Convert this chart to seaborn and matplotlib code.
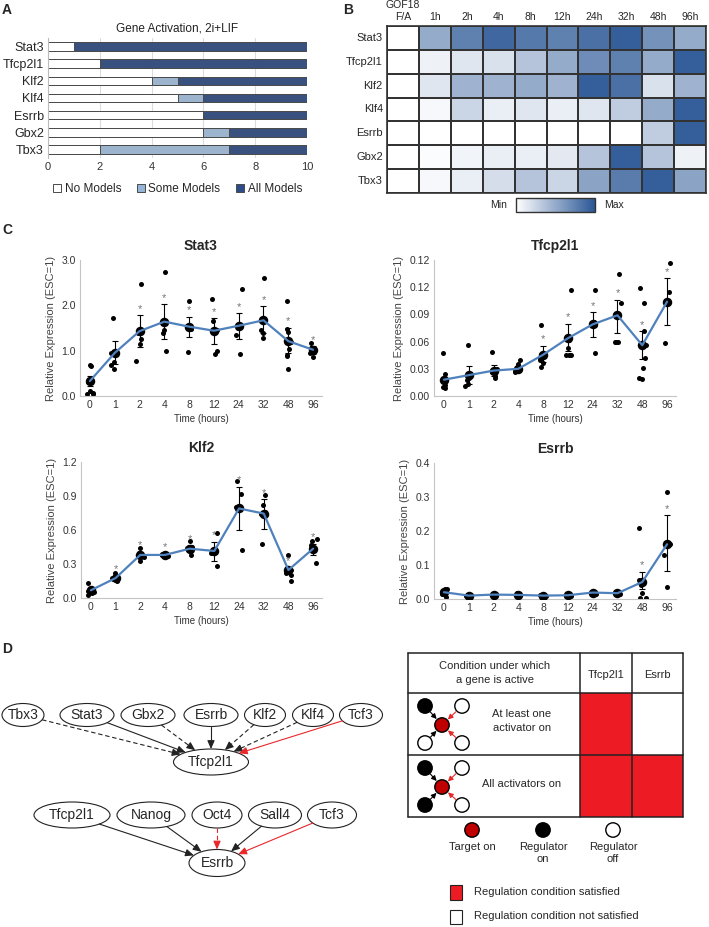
import numpy as np
import pandas as pd
import matplotlib
matplotlib.use("Agg")
import matplotlib.pyplot as plt
import seaborn as sns
from matplotlib.colors import LinearSegmentedColormap
from matplotlib.patches import Ellipse, Circle, Rectangle, Patch

sns.set_style("white")
plt.rcParams["font.family"] = ["Liberation Sans", "DejaVu Sans"]

# %% Data
# A: gene activation counts (out of 10 models)
genes_a = ["Stat3", "Tfcp2l1", "Klf2", "Klf4", "Esrrb", "Gbx2", "Tbx3"]
no_models = [1, 2, 4, 5, 6, 6, 2]
some_models = [0, 0, 1, 1, 0, 1, 5]
all_models = [9, 8, 5, 4, 4, 3, 3]

# B: relative expression heatmap (min-max scaled)
hm_cols = ["GOF18\nF/A", "1h", "2h", "4h", "8h", "12h", "24h", "32h", "48h", "96h"]
hm_vals = [
    [0, 0.50, 0.75, 0.90, 0.80, 0.75, 0.85, 0.95, 0.65, 0.50],
    [0, 0.08, 0.15, 0.18, 0.35, 0.50, 0.68, 0.75, 0.50, 0.95],
    [0, 0.15, 0.45, 0.45, 0.50, 0.45, 0.95, 0.85, 0.18, 0.45],
    [0, 0.04, 0.25, 0.10, 0.15, 0.10, 0.15, 0.30, 0.50, 0.95],
    [0, 0.00, 0.00, 0.00, 0.00, 0.00, 0.00, 0.00, 0.30, 0.95],
    [0, 0.02, 0.07, 0.10, 0.10, 0.13, 0.35, 0.95, 0.35, 0.08],
    [0, 0.04, 0.10, 0.20, 0.35, 0.25, 0.55, 0.78, 0.95, 0.55],
]

# C: qPCR time course
times = ["0", "1", "2", "4", "8", "12", "24", "32", "48", "96"]

stat3_pts = [
    [0.68, 0.67, 0.30, 0.10, 0.06, 0.05, 0.05],
    [1.73, 0.95, 0.75, 0.68, 0.60],
    [2.48, 1.40, 1.25, 1.15, 0.77],
    [2.73, 1.62, 1.45, 1.38, 0.99],
    [2.10, 1.55, 1.52, 1.48, 0.97],
    [2.13, 1.65, 1.45, 1.00, 0.93],
    [2.37, 1.55, 1.50, 1.35, 0.93],
    [2.60, 1.70, 1.45, 1.40, 1.27],
    [2.10, 1.48, 1.42, 1.20, 1.03, 0.90, 0.88, 0.60],
    [1.17, 1.05, 1.00, 0.95, 0.85],
]
stat3_mean = [0.33, 0.95, 1.43, 1.64, 1.53, 1.44, 1.55, 1.67, 1.21, 1.02]
stat3_hi = [0.45, 1.22, 1.78, 2.02, 1.75, 1.72, 1.83, 1.98, 1.51, 1.10]
stat3_lo = [0.22, 0.70, 1.08, 1.26, 1.30, 1.15, 1.25, 1.40, 0.95, 0.93]
stat3_sig = [0, 0, 1, 1, 1, 1, 1, 1, 1, 1]

tfcp_pts = [
    [0.047, 0.024, 0.018, 0.015, 0.012, 0.010, 0.009],
    [0.056, 0.020, 0.018, 0.013, 0.011],
    [0.048, 0.030, 0.026, 0.022, 0.020],
    [0.040, 0.035, 0.030, 0.028, 0.026],
    [0.078, 0.045, 0.042, 0.040, 0.036, 0.032],
    [0.117, 0.062, 0.053, 0.045, 0.045, 0.045],
    [0.117, 0.082, 0.080, 0.078, 0.047],
    [0.135, 0.103, 0.090, 0.060, 0.060, 0.060],
    [0.119, 0.103, 0.072, 0.056, 0.042, 0.031, 0.020, 0.019],
    [0.147, 0.115, 0.105, 0.105, 0.058],
]
tfcp_mean = [0.018, 0.023, 0.028, 0.030, 0.0455, 0.0637, 0.079, 0.089, 0.056, 0.104]
tfcp_hi = [0.021, 0.033, 0.034, 0.032, 0.0555, 0.0796, 0.0926, 0.106, 0.0715, 0.130]
tfcp_lo = [0.015, 0.013, 0.022, 0.027, 0.037, 0.050, 0.065, 0.069, 0.041, 0.078]
tfcp_sig = [0, 0, 0, 0, 1, 1, 1, 1, 1, 1]

klf2_pts = [
    [0.13, 0.06, 0.05, 0.04, 0.03],
    [0.22, 0.18, 0.17, 0.16, 0.15],
    [0.44, 0.40, 0.38, 0.36, 0.33],
    [0.39, 0.38, 0.38, 0.37],
    [0.50, 0.45, 0.44, 0.42, 0.38],
    [0.57, 0.42, 0.40, 0.28],
    [1.03, 0.92, 0.80, 0.80, 0.42],
    [0.91, 0.82, 0.76, 0.74, 0.48],
    [0.38, 0.25, 0.22, 0.20, 0.15],
    [0.52, 0.50, 0.47, 0.44, 0.31],
]
klf2_mean = [0.068, 0.176, 0.38, 0.38, 0.435, 0.415, 0.79, 0.745, 0.247, 0.435]
klf2_hi = [0.080, 0.200, 0.41, 0.39, 0.465, 0.497, 0.98, 0.870, 0.270, 0.480]
klf2_lo = [0.055, 0.155, 0.35, 0.37, 0.405, 0.330, 0.60, 0.610, 0.220, 0.380]
klf2_sig = [0, 1, 1, 1, 1, 1, 1, 1, 1, 1]

esrrb_pts = [
    [0.030, 0.028, 0.022, 0.015, 0.005],
    [0.012, 0.010, 0.008],
    [0.015, 0.013, 0.011],
    [0.018, 0.012, 0.008],
    [0.011, 0.009, 0.008],
    [0.014, 0.010, 0.008],
    [0.021, 0.018, 0.016],
    [0.018, 0.016],
    [0.210, 0.055, 0.050, 0.040, 0.018, 0.002, 0.002],
    [0.315, 0.163, 0.130, 0.036],
]
esrrb_mean = [0.020, 0.010, 0.013, 0.012, 0.010, 0.011, 0.019, 0.017, 0.050, 0.161]
esrrb_hi = [0.025, 0.012, 0.015, 0.014, 0.011, 0.013, 0.021, 0.018, 0.080, 0.246]
esrrb_lo = [0.015, 0.008, 0.011, 0.010, 0.009, 0.009, 0.017, 0.016, 0.030, 0.082]
esrrb_sig = [0, 0, 0, 0, 0, 0, 0, 0, 1, 1]

# D: regulatory networks and rule table
net1_target = "Tfcp2l1"
net1_regs = ["Tbx3", "Stat3", "Gbx2", "Esrrb", "Klf2", "Klf4", "Tcf3"]
net1_kind = ["dashed", "solid", "dashed", "solid", "dashed", "dashed", "red"]
net2_target = "Esrrb"
net2_regs = ["Tfcp2l1", "Nanog", "Oct4", "Sall4", "Tcf3"]
net2_kind = ["solid", "solid", "red_dashed", "solid", "red"]

cond_labels = ["At least one\nactivator on", "All activators on"]
table_targets = ["Tfcp2l1", "Esrrb"]
satisfied = [[True, False], [True, True]]
icon_states = [[True, False, False, False], [True, False, True, False]]

# %% Figure
W, H = 709, 927
fig = plt.figure(figsize=(W / 100, H / 100), dpi=100)


def box(l, t, r, b):
    return [l / W, 1 - b / H, (r - l) / W, (b - t) / H]


LIGHT = "#95B3D7"
DARK = "#2C4D8A"
BLUE_LINE = "#4F81BD"

# %% A
axA = fig.add_axes(box(48, 38, 307, 158))
totals = np.add(np.add(no_models, some_models), all_models)
mids = np.add(no_models, some_models)
for vals, col in [(totals, DARK), (mids, LIGHT), (no_models, "white")]:
    sns.barplot(x=vals, y=genes_a, orient="h", color=col, width=0.5,
                edgecolor="#4a4a4a", linewidth=0.7, ax=axA)
axA.set_xlim(0, 10)
axA.set_xticks([0, 2, 4, 6, 8, 10])
axA.grid(axis="x", color="#dcdcdc", linewidth=0.8)
axA.set_axisbelow(True)
for s in ["top", "right", "bottom"]:
    axA.spines[s].set_visible(False)
axA.spines["left"].set_color("#bbbbbb")
axA.tick_params(length=0, pad=3)
axA.tick_params(axis="y", labelsize=9)
axA.tick_params(axis="x", labelsize=8, labelcolor="#333333")
axA.set_xlabel("")
axA.set_ylabel("")
axA.set_title("Gene Activation, 2i+LIF", fontsize=8.5, pad=5, color="#222222")
handles = [Patch(facecolor=c, edgecolor="#4a4a4a", linewidth=0.7, label=l)
           for c, l in [("white", "No Models"), (LIGHT, "Some Models"), (DARK, "All Models")]]
axA.legend(handles=handles, loc="upper center", bbox_to_anchor=(0.5, -0.17), ncol=3,
           frameon=False, fontsize=8.5, handlelength=0.7, handleheight=0.7,
           handletextpad=0.3, columnspacing=1.3, borderaxespad=0)

# %% B
cmap = LinearSegmentedColormap.from_list("wb", ["#FFFFFF", "#2B5796"])
axB = fig.add_axes(box(387, 26, 706, 193))
hm_df = pd.DataFrame(hm_vals, index=genes_a, columns=hm_cols)
sns.heatmap(hm_df, cmap=cmap, vmin=0, vmax=1, linewidths=1.2, linecolor="#333333",
            cbar=False, ax=axB)
axB.xaxis.tick_top()
axB.tick_params(length=0, pad=3)
axB.tick_params(axis="x", labelsize=7.5)
axB.tick_params(axis="y", labelsize=8)
plt.setp(axB.get_xticklabels(), rotation=0)
plt.setp(axB.get_yticklabels(), rotation=0)
for s in axB.spines.values():
    s.set_visible(True)
    s.set_color("#333333")
    s.set_linewidth(1.2)
cax = fig.add_axes(box(516, 198, 595, 212))
cb = fig.colorbar(axB.collections[0], cax=cax, orientation="horizontal")
cb.set_ticks([])
cb.outline.set_edgecolor("#333333")
cb.outline.set_linewidth(1)
cax.text(-0.12, 0.5, "Min", transform=cax.transAxes, ha="right", va="center", fontsize=7.5)
cax.text(1.12, 0.5, "Max", transform=cax.transAxes, ha="left", va="center", fontsize=7.5)

# %% C
np.random.seed(3)


def expr_panel(rect, title, pts, mean, lo, hi, sig, yticks, ylabels):
    ax = fig.add_axes(box(*rect))
    df = pd.DataFrame([(t, v) for t, vs in zip(times, pts) for v in vs],
                      columns=["time", "value"])
    sns.stripplot(data=df, x="time", y="value", order=times, color="black",
                  size=3.6, jitter=0.15, ax=ax, zorder=2)
    x = np.arange(len(times))
    ax.errorbar(x, mean, yerr=[np.subtract(mean, lo), np.subtract(hi, mean)],
                fmt="none", ecolor="black", elinewidth=0.8, capsize=2.5,
                capthick=0.8, zorder=3)
    ax.scatter(x, mean, s=34, color="black", zorder=4)
    ax.plot(x, mean, color=BLUE_LINE, lw=1.6, zorder=5)
    for i in np.flatnonzero(sig):
        ax.annotate("*", (i, hi[i]), xytext=(0, 1), textcoords="offset points",
                    ha="center", va="bottom", color="#777777", fontsize=8)
    ax.set_xlim(-0.4, 9.36)
    ax.set_ylim(yticks[0], yticks[-1])
    ax.set_yticks(yticks)
    ax.set_yticklabels(ylabels)
    for s in ["top", "right"]:
        ax.spines[s].set_visible(False)
    for s in ["left", "bottom"]:
        ax.spines[s].set_color("#c4c4c4")
        ax.spines[s].set_linewidth(0.8)
    ax.tick_params(length=0, labelsize=7.5, labelcolor="#333333", pad=3)
    ax.set_xlabel("Time (hours)", fontsize=7, labelpad=3, color="#333333")
    ax.set_ylabel("Relative Expression (ESC=1)", fontsize=8, color="#444444", labelpad=4)
    ax.set_title(title, fontsize=10, fontweight="bold", pad=7)
    return ax


expr_panel((80, 260, 322, 396), "Stat3", stat3_pts, stat3_mean, stat3_lo, stat3_hi,
           stat3_sig, [0, 1, 2, 3], ["0.0", "1.0", "2.0", "3.0"])
expr_panel((434, 260, 676, 396), "Tfcp2l1", tfcp_pts, tfcp_mean, tfcp_lo, tfcp_hi,
           tfcp_sig, [0, 0.03, 0.06, 0.09, 0.12, 0.15],
           ["0.00", "0.03", "0.06", "0.09", "0.12", "0.12"])
expr_panel((81, 462, 322, 598), "Klf2", klf2_pts, klf2_mean, klf2_lo, klf2_hi,
           klf2_sig, [0, 0.3, 0.6, 0.9, 1.2], ["0.0", "0.3", "0.6", "0.9", "1.2"])
expr_panel((434, 463, 676, 599), "Esrrb", esrrb_pts, esrrb_mean, esrrb_lo, esrrb_hi,
           esrrb_sig, [0, 0.1, 0.2, 0.3, 0.4], ["0.0", "0.1", "0.2", "0.3", "0.4"])

# %% D (drawn in pixel coordinates on an overlay)
axD = fig.add_axes([0, 0, 1, 1])
axD.set_xlim(0, W)
axD.set_ylim(H, 0)
axD.axis("off")
axD.patch.set_alpha(0)

RED = "#E8272A"


def ell_point(cx, cy, w, h, dx, dy):
    t = 1 / np.sqrt((dx / (w / 2)) ** 2 + (dy / (h / 2)) ** 2)
    return cx + dx * t, cy + dy * t


def draw_network(regs, kinds, target, xs, y, widths, h, tx, ty, tw, th):
    for name, kind, cx, w in zip(regs, kinds, xs, widths):
        axD.add_patch(Ellipse((cx, y), w, h, facecolor="white", edgecolor="#222222", lw=0.8))
        axD.text(cx, y, name, ha="center", va="center", fontsize=10)
        dx, dy = tx - cx, ty - y
        x0, y0 = ell_point(cx, y, w, h, dx, dy)
        x1, y1 = ell_point(tx, ty, tw, th, -dx, -dy)
        col = RED if kind.startswith("red") else "#222222"
        ls = (0, (4, 2.5)) if "dashed" in kind else "-"
        L = np.hypot(x1 - x0, y1 - y0)
        ux, uy = (x1 - x0) / L, (y1 - y0) / L
        axD.plot([x0, x1 - ux * 4], [y0, y1 - uy * 4], color=col, lw=0.8, ls=ls)
        axD.annotate("", xy=(x1, y1), xytext=(x1 - ux * 7, y1 - uy * 7),
                     arrowprops=dict(arrowstyle="-|>,head_length=0.5,head_width=0.22",
                                     color=col, lw=0.8, shrinkA=0, shrinkB=0))
    axD.add_patch(Ellipse((tx, ty), tw, th, facecolor="white", edgecolor="#222222", lw=0.8))
    axD.text(tx, ty, target, ha="center", va="center", fontsize=10)


draw_network(net1_regs, net1_kind, net1_target,
             [23, 87, 148, 211, 265, 313, 361], 715, [42, 54, 54, 54, 41, 41, 43], 23,
             211, 762, 75, 26)
draw_network(net2_regs, net2_kind, net2_target,
             [72, 151, 217, 275, 332], 815, [76, 68, 50, 53, 49], 26,
             217, 863, 56, 27)

# rule table
tx0, tx1, ty0, ty1 = 408, 683, 653, 817
col_x = [tx0, 580, 632, tx1]
row_y = [ty0, 693, 755, ty1]
for r in range(2):
    for c in range(2):
        if satisfied[r][c]:
            axD.add_patch(Rectangle((col_x[c + 1], row_y[r + 1]),
                                    col_x[c + 2] - col_x[c + 1], row_y[r + 2] - row_y[r + 1],
                                    facecolor="#ED1C24", edgecolor="none"))
for xv in col_x:
    axD.plot([xv, xv], [ty0, ty1], color="#222222", lw=1.1)
for yv in row_y:
    axD.plot([tx0, tx1], [yv, yv], color="#222222", lw=1.1)
axD.text(495, 673, "Condition under which\na gene is active", ha="center", va="center",
         fontsize=8, linespacing=1.4)
for c, name in enumerate(table_targets):
    axD.text((col_x[c + 1] + col_x[c + 2]) / 2, 675, name, ha="center", va="center", fontsize=8)


def node(x, y, state, r=7.2):
    fc = {"target": "#C00000", True: "black", False: "white"}[state]
    axD.add_patch(Circle((x, y), r, facecolor=fc, edgecolor="black", lw=1.0, zorder=3))


for r, (label, states) in enumerate(zip(cond_labels, icon_states)):
    cy = (row_y[r + 1] + row_y[r + 2]) / 2
    center = (442, cy + 1)
    outer = [(425, cy - 18), (462, cy - 18), (425, cy + 19), (462, cy + 19)]
    for k, ((ox, oy), st) in enumerate(zip(outer, states)):
        node(ox, oy, st)
        col = "black" if k % 2 == 0 else RED
        dx, dy = center[0] - ox, center[1] - oy
        L = np.hypot(dx, dy)
        axD.annotate("", xy=(center[0] - dx / L * 8, center[1] - dy / L * 8),
                     xytext=(ox + dx / L * 8, oy + dy / L * 8),
                     arrowprops=dict(arrowstyle="-|>,head_length=0.3,head_width=0.15",
                                     color=col, lw=0.8, shrinkA=0, shrinkB=0))
    node(*center, "target")
    axD.text(522, cy - 3 if r == 0 else cy - 2, label, ha="center", va="center", fontsize=8,
             linespacing=1.4)

# node legend
for x, st, lab in [(472, "target", "Target on"), (543, True, "Regulator\non"),
                   (613, False, "Regulator\noff")]:
    node(x, 830, st)
    axD.text(x, 842, lab, ha="center", va="top", fontsize=8, linespacing=1.3)

# condition legend
axD.add_patch(Rectangle((450, 885), 12, 15, facecolor="#ED1C24", edgecolor="#222222", lw=0.8))
axD.add_patch(Rectangle((450, 910), 12, 14, facecolor="white", edgecolor="#222222", lw=0.8))
axD.text(474, 892, "Regulation condition satisfied", ha="left", va="center", fontsize=8)
axD.text(474, 916, "Regulation condition not satisfied", ha="left", va="center", fontsize=8)

# panel letters
for lab, x, y in [("A", 2, 10), ("B", 343, 10), ("C", 2, 230), ("D", 2, 649)]:
    axD.text(x, y, lab, ha="left", va="center", fontsize=10, fontweight="bold")

fig.savefig("out.png", dpi=100)
